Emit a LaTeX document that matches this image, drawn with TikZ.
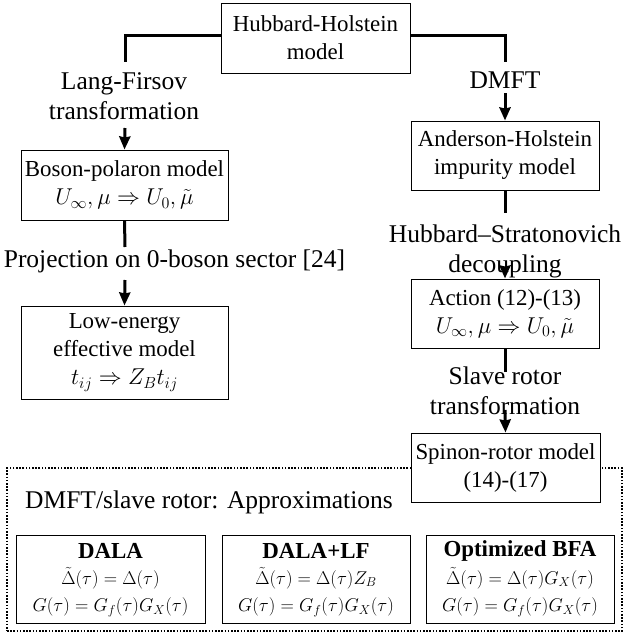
\RequirePackage{fix-cm}
\documentclass[tikz,border=0pt]{standalone}
\usepackage{fontspec}
\setmainfont{Liberation Serif}
\usetikzlibrary{arrows.meta}
\newcommand{\boxfont}{\fontsize{22.9}{28}\selectfont}
\newcommand{\lblfont}{\fontsize{25.5}{30}\selectfont}
\newcommand{\eqfont}{\fontsize{18.5}{22}\selectfont}
\tikzset{
  mbox/.style={draw, line width=1pt, fill=white, inner sep=0pt, align=center, font=\boxfont},
  lbl/.style={align=center, inner sep=0pt, font=\lblfont},
  eqn/.style={inner sep=0pt, font=\eqfont},
  ttl/.style={inner sep=0pt, font=\boxfont\bfseries},
  conn/.style={line width=3pt},
  arr/.style={line width=3pt, -{Stealth[length=13pt,width=11pt,inset=1pt]}},
  dotbox/.style={draw, line width=1.6pt, dash pattern=on 1.6pt off 1.6pt, inner sep=0pt},
}
\begin{document}
\begin{tikzpicture}[x=1pt,y=-1pt]
\useasboundingbox (0,0) rectangle (623,635);
% dotted frame (drawn first)
\node[dotbox, minimum width=615pt, minimum height=163pt] (ap) at (314.5,549.5) {};
% top box
\node[mbox, minimum width=189pt, minimum height=70pt] (hh) at (315.5,38) {Hubbard-Holstein\\model};
% left column
\coordinate (l1) at (125,62);
\node[lbl] (lf) at (124,96) {Lang-Firsov\\transformation};
\coordinate (l2) at (125,128);
\node[mbox, minimum width=207pt, minimum height=70pt] (bp) at (124.5,185) {Boson-polaron model\\$U_\infty,\mu\Rightarrow U_0,\tilde\mu$};
\coordinate (l3) at (125,247);
\node[lbl] (pr) at (174.5,261) {Projection on 0-boson sector [24]};
\coordinate (l4) at (125,280);
\node[mbox, minimum width=207pt, minimum height=93pt] (le) at (124.5,352.5) {Low-energy\\effective model\\$t_{ij}\Rightarrow Z_Bt_{ij}$};
% right column
\coordinate (r1) at (505,62);
\node[lbl] (dm) at (505,80) {DMFT};
\coordinate (r2) at (505,93);
\node[mbox, minimum width=188pt, minimum height=69pt] (ah) at (505,155.5) {Anderson-Holstein\\impurity model};
\coordinate (r3) at (505,213);
\node[lbl] (hs) at (505,251) {Hubbard--Stratonovich\\decoupling};
\coordinate (r4) at (505,268);
\node[mbox, minimum width=188pt, minimum height=69pt] (ac) at (505,313.5) {Action (12)-(13)\\$U_\infty,\mu\Rightarrow U_0,\tilde\mu$};
\coordinate (r5) at (505,372);
\node[lbl] (sl) at (505,391) {Slave rotor\\transformation};
\coordinate (r6) at (505,410);
\node[mbox, minimum width=189pt, minimum height=69pt] (sr) at (505.5,467.5) {Spinon-rotor model\\(14)-(17)};
% connectors
\draw[conn] ([yshift=3pt]hh.west) -| (l1);
\draw[conn] ([yshift=3pt]hh.east) -| (r1);
\draw[arr] (l2) -- (bp.north);
\draw[conn] (bp.south) -- (l3);
\draw[arr] (l4) -- (le.north);
\draw[arr] (r2) -- (ah.north);
\draw[conn] (ah.south) -- (r3);
\draw[arr] (r4) -- (ac.north);
\draw[conn] (ac.south) -- (r5);
\draw[arr] (r6) -- (sr.north);
% approximations
\node[lbl, anchor=west] (at) at (25,502) {DMFT/slave rotor: Approximations};
\node[mbox, minimum width=189pt, minimum height=88pt] (b1) at (110.5,579) {};
\node[mbox, minimum width=188pt, minimum height=88pt] (b2) at (316,579) {};
\node[mbox, minimum width=188pt, minimum height=88pt] (b3) at (520,579) {};
\node[ttl] (b1t) at (110.5,551) {DALA};
\node[ttl] (b2t) at (316,551) {DALA+LF};
\node[ttl] (b3t) at (520,551) {Optimized BFA};
\node[eqn] (b1a) at (110.5,578) {$\tilde\Delta(\tau)=\Delta(\tau)$};
\node[eqn] (b2a) at (316,578) {$\tilde\Delta(\tau)=\Delta(\tau)Z_B$};
\node[eqn] (b3a) at (520,578) {$\tilde\Delta(\tau)=\Delta(\tau)G_X(\tau)$};
\node[eqn] (b1b) at (110.5,607) {$G(\tau)=G_f(\tau)G_X(\tau)$};
\node[eqn] (b2b) at (316,607) {$G(\tau)=G_f(\tau)G_X(\tau)$};
\node[eqn] (b3b) at (520,607) {$G(\tau)=G_f(\tau)G_X(\tau)$};
\end{tikzpicture}
\end{document}
